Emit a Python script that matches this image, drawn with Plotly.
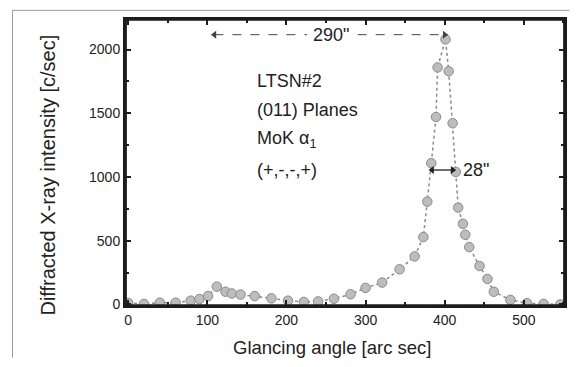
import plotly.graph_objects as go

# Data
angle = [0, 20, 40, 60, 79, 90, 101, 112, 123, 131, 142, 160, 181, 202, 222, 240, 260,
         281, 300, 321, 343, 362, 373, 378, 383, 389, 391, 401, 405, 410, 414, 417, 423,
         426, 431, 444, 454, 462, 483, 504, 525, 546]
intensity = [12, 4, 14, 14, 30, 42, 66, 140, 100, 86, 78, 66, 48, 30, 20, 24, 45,
             80, 130, 172, 276, 377, 529, 807, 1109, 1471, 1860, 2080, 1830, 1422, 1040, 760, 633,
             547, 450, 302, 200, 100, 36, 10, 4, 0]

x_ticks = [0, 100, 200, 300, 400, 500]
y_ticks = [0, 500, 1000, 1500, 2000]
info_lines = ["LTSN#2", "(011) Planes", "MoK α<sub>1</sub>", "(+,-,-,+)"]

# annotation arrows: 290" span and 28" FWHM
span_290 = [109, 400]
span_290_gap = [226, 290]
level_290 = 2117
span_28 = [384, 410]
level_28 = 1055

FONT = "Liberation Sans, Arial, sans-serif"
AX = "#1c1c1c"

fig = go.Figure()
fig.add_trace(go.Scatter(
    x=angle, y=intensity, mode="lines+markers",
    line=dict(color="#8a8a8a", width=1.5, dash="dot"),
    marker=dict(size=9.5, color="#bdbdbd", line=dict(color="#8a8a8a", width=1)),
    showlegend=False,
))
# arrow heads
fig.add_trace(go.Scatter(
    x=[span_290[0], span_290[1]], y=[level_290, level_290], mode="markers",
    marker=dict(symbol=["triangle-left", "triangle-right"], size=7, color="#444"),
    showlegend=False, hoverinfo="skip",
))
fig.add_trace(go.Scatter(
    x=[span_28[0], span_28[1]], y=[level_28, level_28], mode="markers",
    marker=dict(symbol=["triangle-left", "triangle-right"], size=7, color="#222"),
    showlegend=False, hoverinfo="skip",
))

axis_common = dict(
    showline=True, linecolor=AX, linewidth=2, mirror="ticks",
    ticks="inside", ticklen=6, tickwidth=1.5, tickcolor=AX,
    showgrid=False, zeroline=False,
    tickfont=dict(family=FONT, size=14, color="#222"),
)
fig.update_xaxes(range=[-4, 552], tickmode="array", tickvals=x_ticks,
                 minor=dict(ticks="inside", ticklen=4, dtick=50, tickcolor=AX, tickwidth=1.5),
                 **axis_common)
fig.update_yaxes(range=[-12, 2240], tickmode="array", tickvals=y_ticks,
                 minor=dict(ticks="inside", ticklen=4, dtick=250, tickcolor=AX, tickwidth=1.5),
                 **axis_common)

annotations = []
annotations.append(dict(text="Glancing angle [arc sec]", xref="paper", yref="paper",
                        x=0.4706, y=-0.146, xanchor="center", yanchor="middle",
                        showarrow=False, font=dict(family=FONT, size=18.5, color="#222")))
annotations.append(dict(text="Diffracted X-ray intensity [c/sec]", xref="paper", yref="paper",
                        x=-0.174, y=0.456, xanchor="center", yanchor="middle", textangle=-90,
                        showarrow=False, font=dict(family=FONT, size=20, color="#222")))
for i, t in enumerate(info_lines):
    annotations.append(dict(text=t, x=160, y=1755 - i * 232, xref="x", yref="y",
                            xanchor="left", yanchor="middle", showarrow=False,
                            font=dict(family=FONT, size=18, color="#222")))
annotations.append(dict(text="290\"", x=256, y=level_290, xref="x", yref="y", showarrow=False,
                        font=dict(family=FONT, size=18, color="#222")))
annotations.append(dict(text="28\"", x=421, y=level_28, xref="x", yref="y", xanchor="left",
                        yanchor="middle", showarrow=False,
                        font=dict(family=FONT, size=18, color="#222")))

arrow_line = dict(color="#444", width=1, dash="dash")
border = dict(color="#9a9a9a", width=1)
shapes = [
    dict(type="line", xref="x", yref="y", x0=span_290[0], x1=span_290_gap[0],
         y0=level_290, y1=level_290, line=arrow_line),
    dict(type="line", xref="x", yref="y", x0=span_290_gap[1], x1=span_290[1],
         y0=level_290, y1=level_290, line=arrow_line),
    dict(type="line", xref="x", yref="y", x0=span_28[0], x1=span_28[1],
         y0=level_28, y1=level_28, line=dict(color="#222", width=1.3)),
    # frame (backup for the axis lines), drawn a hair inside the plot edges
    dict(type="rect", xref="paper", yref="paper", x0=0.002, x1=0.998, y0=0.003, y1=0.997,
         line=dict(color=AX, width=2), layer="above"),
    # scanned page border
    dict(type="line", xref="paper", yref="paper", x0=-0.2557, x1=1.01, y0=1.03, y1=1.03, line=border),
    dict(type="line", xref="paper", yref="paper", x0=-0.2557, x1=-0.2557, y0=-0.18, y1=1.03, line=border),
]

fig.update_layout(
    width=564, height=351,
    margin=dict(l=117, r=5, t=11, b=53),
    paper_bgcolor="white", plot_bgcolor="rgba(255,255,255,0)",
    annotations=annotations,
    shapes=shapes,
)

fig.write_html("out.html")
